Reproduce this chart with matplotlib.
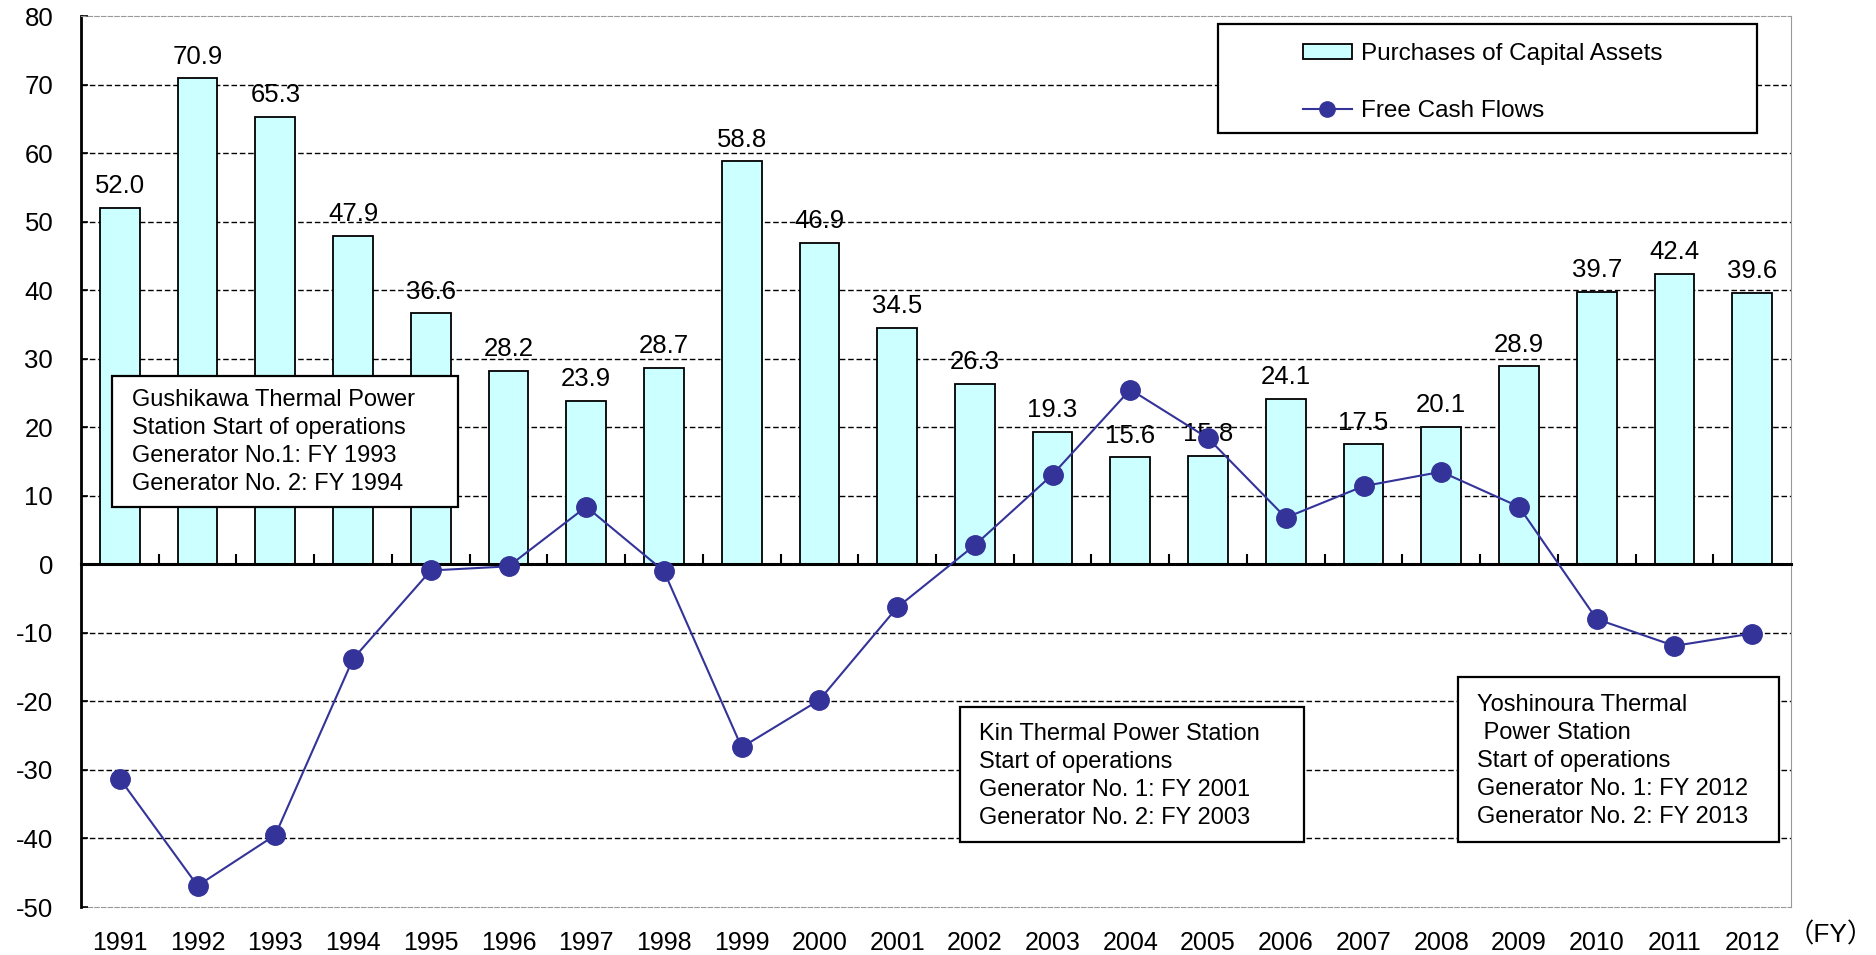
import numpy as np
import matplotlib
matplotlib.use("Agg")
import matplotlib.pyplot as plt
from matplotlib.patches import Rectangle, Patch
from matplotlib.lines import Line2D

plt.rcParams['font.family'] = ['Liberation Sans', 'Noto Sans CJK JP', 'DejaVu Sans']
plt.rcParams['axes.unicode_minus'] = False

years = ['1991', '1992', '1993', '1994', '1995', '1996', '1997', '1998', '1999', '2000', '2001',
         '2002', '2003', '2004', '2005', '2006', '2007', '2008', '2009', '2010', '2011', '2012']
capex = [52.0, 70.9, 65.3, 47.9, 36.6, 28.2, 23.9, 28.7, 58.8, 46.9, 34.5,
         26.3, 19.3, 15.6, 15.8, 24.1, 17.5, 20.1, 28.9, 39.7, 42.4, 39.6]
fcf = [-31.3, -46.9, -39.5, -13.8, -0.9, -0.3, 8.4, -1.0, -26.7, -19.8, -6.3,
       2.8, 13.1, 25.5, 18.4, 6.8, 11.4, 13.5, 8.4, -8.0, -11.9, -10.1]

bar_color = '#CCFFFF'
line_color = '#333399'

W, H = 1876, 955
fig = plt.figure(figsize=(W / 100, H / 100), dpi=100)
ax = fig.add_axes([81 / W, 1 - 907 / H, (1791 - 81) / W, (907 - 16) / H])

x = np.arange(len(years))
ax.bar(x, capex, width=0.51, color=bar_color, edgecolor='black', linewidth=1.3, zorder=2)
for xi, v in zip(x, capex):
    ax.annotate(f'{v:.1f}', (xi, v), xytext=(0, 7), textcoords='offset points',
                ha='center', va='bottom', fontsize=18.5, zorder=3)
ax.plot(x, fcf, color=line_color, lw=1.5, marker='o', ms=14, zorder=5)

ax.set_xlim(-0.5, len(years) - 0.5)
ax.set_ylim(-50, 80)
ax.set_yticks(np.arange(-50, 81, 10))
ax.tick_params(axis='y', direction='in', length=5, width=1.2, pad=20, labelsize=18.5)
for yv in np.arange(-40, 80, 10):
    if yv != 0:
        ax.axhline(yv, color='black', lw=1.0, ls=(0, (4, 2)), zorder=1)

ax.spines['left'].set_linewidth(2)
ax.spines['right'].set_color('#999999')
ax.spines['top'].set_color('#999999')
ax.spines['top'].set_linestyle((0, (4, 2)))
ax.spines['bottom'].set_position(('data', 0))
ax.spines['bottom'].set_linewidth(2.2)
ax.spines['bottom'].set_zorder(4)
ax.set_xticks(x)
ax.set_xticks(x[:-1] + 0.5, minor=True)
ax.tick_params(axis='x', which='major', length=0, labelbottom=False)
ax.tick_params(axis='x', which='minor', direction='in', length=7, width=1.5)

sec = ax.secondary_xaxis('bottom')
sec.set_xticks(x, labels=years)
sec.tick_params(length=0, pad=17, labelsize=18)
sec.spines['bottom'].set_color('#999999')
sec.spines['bottom'].set_linestyle((0, (4, 2)))
ax.text(0.998, -0.031, '（FY）', transform=ax.transAxes, ha='left', va='center', fontsize=19)


def box(x0, y0, x1, y1, lines, tx, ty):
    fig.patches.append(Rectangle((x0 / W, 1 - y1 / H), (x1 - x0) / W, (y1 - y0) / H,
                                 transform=fig.transFigure, facecolor='white',
                                 edgecolor='black', lw=1.6, zorder=10))
    fig.text(tx / W, 1 - ty / H, '\n'.join(lines), ha='left', va='top',
             fontsize=17, linespacing=1.36, zorder=11)


box(112, 376, 458, 507, ['Gushikawa Thermal Power', 'Station Start of operations',
                         'Generator No.1: FY 1993', 'Generator No. 2: FY 1994'], 132, 389)
box(960, 707, 1304, 842, ['Kin Thermal Power Station', 'Start of operations',
                          'Generator No. 1: FY 2001', 'Generator No. 2: FY 2003'], 979, 723)
box(1458, 677, 1779, 842, ['Yoshinoura Thermal', ' Power Station', 'Start of operations',
                           'Generator No. 1: FY 2012', 'Generator No. 2: FY 2013'], 1477, 694)

# legend
fig.patches.append(Rectangle((1218 / W, 1 - 133 / H), (1757 - 1218) / W, (133 - 24) / H,
                             transform=fig.transFigure, facecolor='white',
                             edgecolor='black', lw=1.6, zorder=10))
handles = [Patch(facecolor=bar_color, edgecolor='black', lw=1.3),
           Line2D([], [], color=line_color, lw=1.5, marker='o', ms=11)]
leg = fig.legend(handles, ['Purchases of Capital Assets', 'Free Cash Flows'],
                 loc='upper left', bbox_to_anchor=(1303 / W, 1 - 43 / H), frameon=False,
                 fontsize=17.5, labelspacing=1.45, handlelength=2.0, handleheight=0.55,
                 handletextpad=0.4, borderpad=0, borderaxespad=0)
leg.set_zorder(12)

fig.savefig('out.png', dpi=100)
